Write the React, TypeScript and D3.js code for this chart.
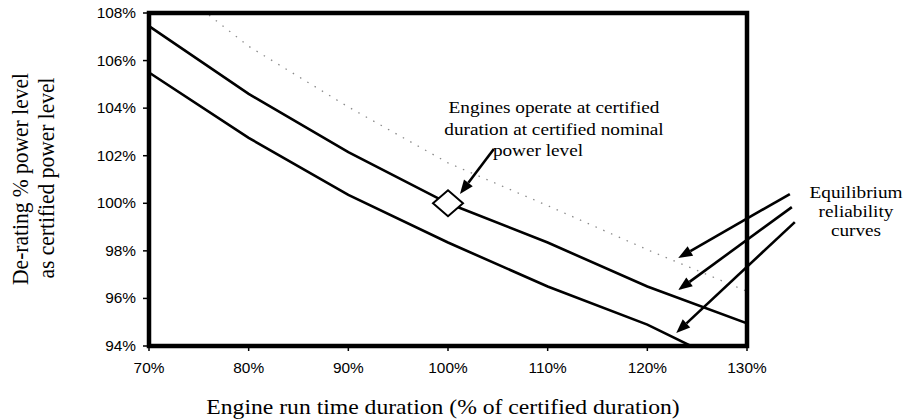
import React from 'react';
import * as d3 from 'd3';

// values (duration %, power %)
const durations = [70, 80, 90, 100, 110, 120, 130];
const upperCurve = [107.45, 104.6, 102.15, 100.0, 98.35, 96.5, 94.95];
const lowerCurve = [105.5, 102.75, 100.35, 98.35, 96.5, 94.9, 92.85];
const dottedCurve = [109.9, 106.6, 104.05, 101.7, 99.9, 98.05, 96.3];

const xTicks = [70, 80, 90, 100, 110, 120, 130];
const yTicks = [94, 96, 98, 100, 102, 104, 106, 108];

const certified = { d: 100, p: 100 };

// arrows in data units: [tailD, tailP, tipD, tipP]
const noteArrow = [104.6, 102.28, 101.2, 100.39];
const curveArrows = [
  [134.3, 100.39, 123.1, 97.7],
  [134.5, 99.84, 123.1, 96.35],
  [134.8, 99.21, 122.9, 94.55],
];

const noteLines = ['Engines operate at certified', 'duration at certified nominal', 'power level'];
const curveLabel = ['Equilibrium', 'reliability', 'curves'];
const xTitle = 'Engine run time duration (% of certified duration)';
const yTitle = ['De-rating % power level', 'as certified power level'];

const W = 907, H = 420;
const SX = 1.1; // scan is stretched horizontally
const serif = '"Liberation Serif", "Times New Roman", serif';
const sans = '"Liberation Sans", Arial, sans-serif';

const Arrow = ({ a, x, y }: { a: number[]; x: any; y: any }) => {
  const x1 = x(a[0]), y1 = y(a[1]), x2 = x(a[2]), y2 = y(a[3]);
  const ang = Math.atan2(y2 - y1, x2 - x1);
  const len = 14, hw = 5.5;
  const bx = x2 - len * Math.cos(ang), by = y2 - len * Math.sin(ang);
  const px = -Math.sin(ang) * hw, py = Math.cos(ang) * hw;
  return (
    <g>
      <line x1={x1} y1={y1} x2={bx} y2={by} stroke="#000" strokeWidth={2.6} />
      <path d={`M${x2},${y2}L${bx + px},${by + py}L${bx - px},${by - py}Z`} fill="#000" />
    </g>
  );
};

export default function App() {
  const x = d3.scaleLinear().domain([70, 130]).range([149, 747]);
  const y = d3.scaleLinear().domain([94, 108]).range([346, 13]);
  const line = d3.line<number>().x((_, i) => x(durations[i])).y(d => y(d));

  const cx = x(certified.d), cy = y(certified.p);
  const diamond = `M${cx - 15},${cy}L${cx},${cy - 13}L${cx + 15},${cy}L${cx},${cy + 13}Z`;

  return (
    <svg width={W} height={H} style={{ position: 'absolute', left: 0, top: 0, background: '#fff' }}>
      <defs>
        <clipPath id="plot">
          <rect x={x(70)} y={y(108)} width={x(130) - x(70)} height={y(94) - y(108)} />
        </clipPath>
      </defs>

      <g clipPath="url(#plot)">
        <path d={line(dottedCurve) || ''} fill="none" stroke="#8a8a8a" strokeWidth={1.3} strokeDasharray="1.5 7" />
        <path d={line(upperCurve) || ''} fill="none" stroke="#000" strokeWidth={2.6} />
        <path d={line(lowerCurve) || ''} fill="none" stroke="#000" strokeWidth={2.6} />
      </g>
      <path d={diamond} fill="#fff" stroke="#000" strokeWidth={2} />

      {/* frame */}
      <rect x={x(70)} y={y(108)} width={x(130) - x(70)} height={y(94) - y(108)} fill="none" stroke="#000" strokeWidth={4.5} />

      {yTicks.map(t => (
        <g key={'y' + t}>
          <line x1={x(70) - 6} x2={x(70)} y1={y(t)} y2={y(t)} stroke="#000" strokeWidth={1.5} />
          <text transform={`translate(${x(70) - 13},${y(t) + 5}) scale(${SX},1)`} textAnchor="end"
            fontFamily={sans} fontSize={14} fill="#000">{t}%</text>
        </g>
      ))}
      {xTicks.map(t => (
        <g key={'x' + t}>
          <line x1={x(t)} x2={x(t)} y1={y(94)} y2={y(94) + 5} stroke="#000" strokeWidth={1.5} />
          <text transform={`translate(${x(t)},373) scale(${SX},1)`} textAnchor="middle"
            fontFamily={sans} fontSize={14} fill="#000">{t}%</text>
        </g>
      ))}

      <text transform={`translate(443,414) scale(${SX},1)`} textAnchor="middle" fontFamily={serif} fontSize={21.5} fill="#000">{xTitle}</text>
      <text transform={`translate(28,179) rotate(-90) scale(1,${SX})`} textAnchor="middle" fontFamily={serif} fontSize={21.5} fill="#000">{yTitle[0]}</text>
      <text transform={`translate(54,178) rotate(-90) scale(1,${SX})`} textAnchor="middle" fontFamily={serif} fontSize={21.5} fill="#000">{yTitle[1]}</text>

      {noteLines.map((s, i) => (
        <text key={s} transform={`translate(${i === 2 ? 538 : 554},${113 + i * 21.5}) scale(${SX},1)`} textAnchor="middle"
          fontFamily={serif} fontSize={17.5} fill="#000">{s}</text>
      ))}
      {curveLabel.map((s, i) => (
        <text key={s} transform={`translate(856,${198 + i * 19}) scale(${SX},1)`} textAnchor="middle"
          fontFamily={serif} fontSize={17.5} fill="#000">{s}</text>
      ))}

      <Arrow a={noteArrow} x={x} y={y} />
      {curveArrows.map((a, i) => <Arrow key={i} a={a} x={x} y={y} />)}
    </svg>
  );
}
